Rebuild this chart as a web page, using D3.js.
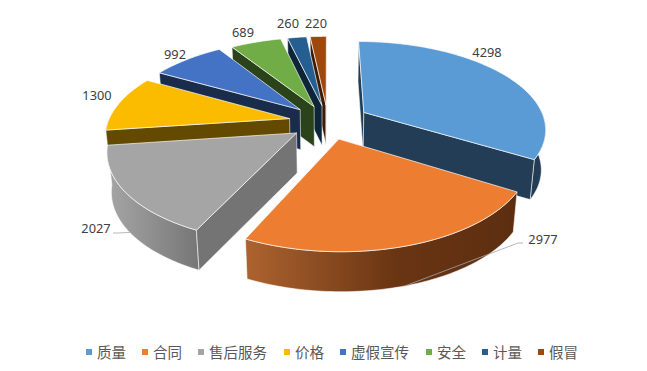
<!DOCTYPE html>
<html>
<head>
<meta charset="utf-8">
<script src="https://cdn.jsdelivr.net/npm/d3@7"></script>
<style>
html, body { margin: 0; padding: 0; background: #fff; }
text { font-family: "Noto Sans", sans-serif; }
</style>
</head>
<body>
<script>
var categories = ['质量', '合同', '售后服务', '价格', '虚假宣传', '安全', '计量', '假冒'];
var values = [4298, 2977, 2027, 1300, 992, 689, 260, 220];

var topColors = ['#5b9bd5', '#ed7d31', '#a5a5a5', '#fbbc00', '#4472c4', '#70ad47', '#255e91', '#9e480e'];
var sideColors = ['#223d55', '#5c2e10', '#747474', '#634a00', '#1a2c4c', '#2b431b', '#0e2438', '#3d1c05'];
var outerFrom = ['#223d55', '#ad632f', '#a6a6a6', '#634a00', '#1a2c4c', '#2b431b', '#0e2438', '#3d1c05'];
var outerTo = ['#223d55', '#5c2e10', '#767676', '#634a00', '#1a2c4c', '#2b431b', '#0e2438', '#3d1c05'];
var explodes = [0.231, 0.2, 0.21, 0.217, 0.215, 0.2, 0.2, 0.2];

// label centres, picked by eye
var labelX = [487, 543, 96, 97, 175, 243, 288, 316];
var labelY = [52, 239, 228, 95, 54, 32, 23, 23];

var width = 647, height = 371;
var cx = 328, cy = 122;
var scaleX = 181.5, scaleY = 86.3, persp = 0.174;
var depth = 40, narrow = 0.02;

var svg = d3.select('body').append('svg')
    .attr('width', width)
    .attr('height', height)
    .style('display', 'block');
var defs = svg.append('defs');

// pie plane -> screen, v points away from the viewer, z goes down
function project(u, v, z) {
    var s = 1 / (1 + persp * v);
    var k = 1 - narrow * z / depth;
    return [cx + scaleX * u * s * k, cy - scaleY * v * s + z];
}

function rim(d, a, r, z) {
    return project(d.ox + r * Math.sin(a), d.oy + r * Math.cos(a), z);
}

var pie = d3.pie().sort(null).value(function(d) { return d; });
var arcs = pie(values).map(function(d, i) {
    var mid = (d.startAngle + d.endAngle) / 2;
    d.index = i;
    d.mid = mid;
    d.ox = explodes[i] * Math.sin(mid);
    d.oy = explodes[i] * Math.cos(mid);
    return d;
});

function arcAngles(a0, a1) {
    var n = Math.max(2, Math.ceil((a1 - a0) / 0.02));
    return d3.range(n + 1).map(function(i) { return a0 + (a1 - a0) * i / n; });
}

var line = d3.line().curve(d3.curveLinearClosed);

// back slices first, the two big front ones go last
var drawOrder = [7, 6, 5, 4, 3, 0, 2, 1];

var slices = svg.selectAll('g.slice')
    .data(drawOrder.map(function(i) { return arcs[i]; }))
    .enter().append('g')
    .attr('class', 'slice');

slices.each(function(d) {
    var g = d3.select(this);
    var i = d.index;

    // curved wall, only the part that faces the viewer
    var front = arcAngles(d.startAngle, d.endAngle).filter(function(a) { return Math.cos(a) < 0.03; });
    if (front.length > 1) {
        var upper = front.map(function(a) { return rim(d, a, 1, 0); });
        var lower = front.map(function(a) { return rim(d, a, 1, depth); }).reverse();
        var id = 'outer' + i;
        var xs = upper.concat(lower).map(function(p) { return p[0]; });
        var grad = defs.append('linearGradient')
            .attr('id', id)
            .attr('gradientUnits', 'userSpaceOnUse')
            .attr('x1', d3.min(xs)).attr('x2', d3.max(xs))
            .attr('y1', 0).attr('y2', 0);
        grad.append('stop').attr('offset', '0%').attr('stop-color', outerFrom[i]);
        grad.append('stop').attr('offset', '55%').attr('stop-color', i == 1 ? '#6a3513' : d3.interpolateRgb(outerFrom[i], outerTo[i])(0.55));
        grad.append('stop').attr('offset', '100%').attr('stop-color', outerTo[i]);
        g.append('path')
            .attr('d', line(upper.concat(lower)))
            .attr('fill', 'url(#' + id + ')')
            .attr('stroke', '#fff')
            .attr('stroke-opacity', 0.7)
            .attr('stroke-width', 0.8);
    }

    // cut faces, skip the ones turned away from us
    [[d.startAngle, -1], [d.endAngle, 1]].forEach(function(w) {
        var a = w[0];
        var pts = [rim(d, a, 0, 0), rim(d, a, 1, 0), rim(d, a, 1, depth), rim(d, a, 0, depth)];
        var cross = (pts[1][0] - pts[0][0]) * (pts[2][1] - pts[1][1]) - (pts[1][1] - pts[0][1]) * (pts[2][0] - pts[1][0]);
        if (cross * w[1] <= 0) return;
        g.append('path')
            .attr('d', line(pts))
            .attr('fill', sideColors[i])
            .attr('stroke', '#fff')
            .attr('stroke-opacity', 0.7)
            .attr('stroke-width', 0.8);
    });

    var topPts = [rim(d, d.startAngle, 0, 0)].concat(arcAngles(d.startAngle, d.endAngle).map(function(a) {
        return rim(d, a, 1, 0);
    }));
    g.append('path')
        .attr('d', line(topPts))
        .attr('fill', topColors[i])
        .attr('stroke', '#fff')
        .attr('stroke-opacity', 0.75)
        .attr('stroke-width', 0.9);
});

// leader lines for the two labels that sit away from their slice
[[1, 14, 4], [2, 17, 5]].forEach(function(l) {
    var d = arcs[l[0]];
    var p = rim(d, d.mid, 1, depth);
    var right = labelX[l[0]] > p[0];
    var ex = labelX[l[0]] + (right ? -l[1] - 11 : l[1]);
    var ey = labelY[l[0]] + l[2];
    var pts = right ? [p, [ex, ey], [ex + 5, ey]] : [p, [ex + 5, ey], [ex, ey]];
    svg.append('path')
        .attr('d', d3.line()(pts))
        .attr('fill', 'none')
        .attr('stroke', '#a6a6a6')
        .attr('stroke-width', 0.8);
});

svg.selectAll('text.val')
    .data(values)
    .enter().append('text')
    .attr('class', 'val')
    .attr('x', function(d, i) { return labelX[i]; })
    .attr('y', function(d, i) { return labelY[i]; })
    .attr('text-anchor', 'middle')
    .attr('dominant-baseline', 'central')
    .attr('font-size', 12.8)
    .attr('fill', '#404040')
    .text(function(d) { return d; });

// legend
var legendX = 86, legendY = 352;
categories.forEach(function(c, i) {
    svg.append('rect')
        .attr('x', legendX)
        .attr('y', legendY - 3)
        .attr('width', 6)
        .attr('height', 6)
        .attr('fill', topColors[i]);
    svg.append('text')
        .attr('x', legendX + 11)
        .attr('y', legendY - 1)
        .attr('dominant-baseline', 'central')
        .attr('font-size', 14.5)
        .attr('fill', '#595959')
        .style('font-family', '"Noto Sans CJK SC", sans-serif')
        .text(c);
    legendX += c.length * 15 + 26;
});
</script>
</body>
</html>
